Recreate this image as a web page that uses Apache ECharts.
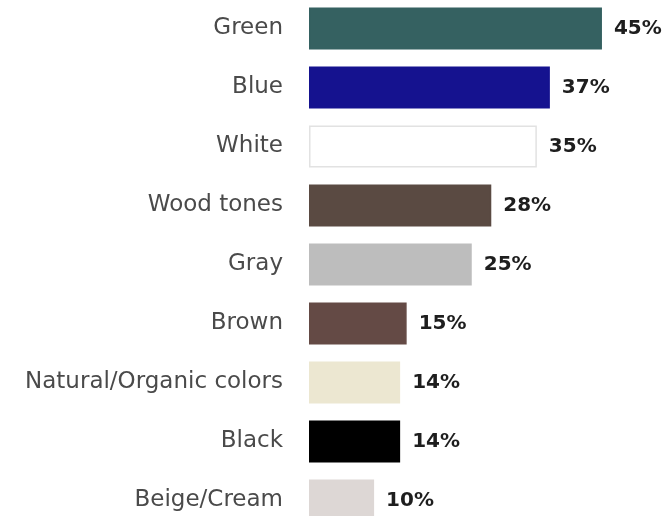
<!DOCTYPE html>
<html>
<head>
<meta charset="utf-8">
<script src="https://cdn.jsdelivr.net/npm/echarts@6/dist/echarts.min.js"></script>
<style>
html,body{margin:0;padding:0;background:#fff;}
#chart{width:669px;height:516px;}
</style>
</head>
<body>
<div id="chart"></div>
<script>
const categories = ["Green","Blue","White","Wood tones","Gray","Brown","Natural/Organic colors","Black","Beige/Cream"];
const values = [45,37,35,28,25,15,14,14,10];
const colors = ["#356161","#15128f","#ffffff","#5a4a42","#bdbdbd","#644a45","#ece7d1","#000000","#ddd7d5"];
const borders = ["#356161","#15128f","#e2e2e2","#5a4a42","#bdbdbd","#644a45","#ece7d1","#000000","#ddd7d5"];

const chart = echarts.init(document.getElementById('chart'));
chart.setOption({
  animation:false,
  backgroundColor:'#ffffff',
  grid:{left:309,width:325.5,top:-1,height:531,containLabel:false,outerBoundsMode:'none'},
  xAxis:{type:'value',min:0,max:50,show:false},
  yAxis:{
    type:'category',
    data:categories,
    inverse:true,
    axisLine:{show:false},
    axisTick:{show:false},
    splitLine:{show:false},
    axisLabel:{
      margin:26,
      fontFamily:'DejaVu Sans',
      fontSize:23,
      color:'#4a4a4a'
    }
  },
  series:[{
    type:'bar',
    barWidth:42,
    data:values.map((v,i)=>({value:v,itemStyle:{color:colors[i],borderColor:borders[i],borderWidth:1.5}})),
    label:{
      show:true,
      position:'right',
      distance:12,
      formatter:'{c}%',
      fontFamily:'DejaVu Sans',
      fontWeight:'bold',
      fontSize:20,
      color:'#1e1e1e'
    }
  }]
});
</script>
</body>
</html>
